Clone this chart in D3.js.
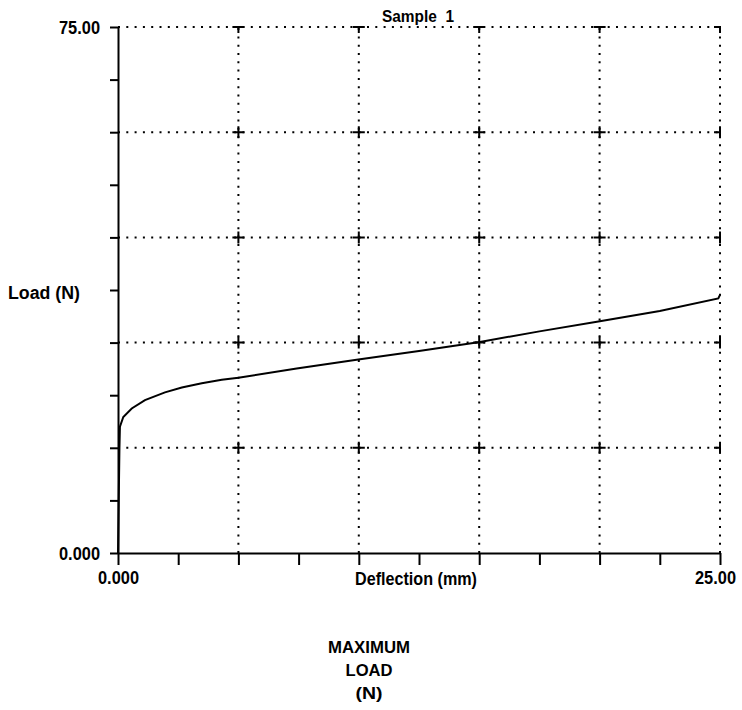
<!DOCTYPE html>
<html>
<head>
<meta charset="utf-8">
<script src="https://cdn.jsdelivr.net/npm/d3@7"></script>
<style>
  body { margin: 0; background: #fff; }
  svg text { font-family: "Liberation Sans", Arial, sans-serif; font-weight: bold; fill: #000; }
</style>
</head>
<body>
<div id="chart"></div>
<script>
// readings
const deflection = [0, 0.02, 0.04, 0.06, 0.08, 0.22, 0.57, 1.12, 1.95, 2.65, 3.48, 4.31, 5.0, 7.42, 9.98, 12.5, 15.03, 17.5, 19.95, 22.5, 24.93, 25.0];
const load = [0, 5, 10, 15, 18.0, 19.4, 20.6, 21.8, 22.9, 23.6, 24.2, 24.7, 25.0, 26.3, 27.6, 28.8, 30.1, 31.6, 33.0, 34.5, 36.3, 36.8];

const xTicks = [0, 2.5, 5, 7.5, 10, 12.5, 15, 17.5, 20, 22.5, 25];
const yTicks = [0, 7.5, 15, 22.5, 30, 37.5, 45, 52.5, 60, 67.5, 75];
const xGrid = [5, 10, 15, 20, 25];
const yGrid = [15, 30, 45, 60, 75];
const xLabels = { 0: "0.000", 25: "25.00" };
const yLabels = { 0: "0.000", 75: "75.00" };
const footer = ["MAXIMUM", "LOAD", "(N)"];
const footerWidths = [82, 47, 27];

const width = 742, height = 710;
const plotLeft = 118, plotRight = 720, plotTop = 27, plotBottom = 553;

const svg = d3.select("#chart").append("svg")
    .attr("width", width)
    .attr("height", height);

const x = d3.scaleLinear().domain([0, 25]).range([plotLeft, plotRight]);
const y = d3.scaleLinear().domain([0, 75]).range([plotBottom, plotTop]);

// squeeze text to the scanned (condensed) width
const fit = (sel, w) => sel.attr("textLength", w).attr("lengthAdjust", "spacingAndGlyphs");

// clip so edge crosses become T / -| shapes
svg.append("defs").append("clipPath").attr("id", "plotClip")
    .append("rect")
    .attr("x", plotLeft - 1).attr("y", plotTop - 1)
    .attr("width", plotRight - plotLeft + 2).attr("height", plotBottom - plotTop + 2);

// dotted grid
const grid = svg.append("g").attr("stroke", "#000").attr("stroke-width", 2)
    .attr("stroke-dasharray", "2,6.3");
grid.selectAll("line.v").data(xGrid).join("line").classed("v", true)
    .attr("x1", d => x(d)).attr("x2", d => x(d))
    .attr("y1", plotBottom).attr("y2", plotTop);
grid.selectAll("line.h").data(yGrid).join("line").classed("h", true)
    .attr("x1", plotLeft).attr("x2", plotRight)
    .attr("y1", d => y(d)).attr("y2", d => y(d));

// crosses at grid intersections
const crossPts = xGrid.flatMap(a => yGrid.map(b => [a, b]));
const cross = svg.append("g").attr("clip-path", "url(#plotClip)")
    .attr("stroke", "#000").attr("stroke-width", 2);
cross.selectAll("path").data(crossPts).join("path")
    .attr("d", d => `M${x(d[0]) - 6},${y(d[1])}h12M${x(d[0])},${y(d[1]) - 6}v12`);

// axes
const yAxis = d3.axisLeft(y).tickValues(yTicks).tickSize(8).tickSizeOuter(0)
    .tickPadding(10).tickFormat(d => yLabels[d] || "");
const gy = svg.append("g").attr("transform", `translate(${plotLeft},0)`).call(yAxis);

const xAxis = d3.axisBottom(x).tickValues(xTicks).tickSize(12).tickSizeOuter(0)
    .tickPadding(6).tickFormat(d => xLabels[d] || "");
const gx = svg.append("g").attr("transform", `translate(0,${plotBottom})`).call(xAxis);

[gx, gy].forEach(g => {
    g.select(".domain").attr("stroke", "#000").attr("stroke-width", 2);
    g.selectAll(".tick line").attr("stroke", "#000").attr("stroke-width", 2);
    g.selectAll(".tick text").style("font-size", "19px").attr("fill", "#000")
        .filter(function() { return this.textContent !== ""; })
        .call(fit, 41);
});
gy.selectAll(".tick text").attr("dy", "0.36em");
// last x label sits a little left of its tick in the scan
gx.selectAll(".tick text").filter(d => d === 25).attr("dx", -5);

// curve
const line = d3.line().x(d => x(d[0])).y(d => y(d[1]));
svg.append("path")
    .datum(deflection.map((d, i) => [d, load[i]]))
    .attr("d", line)
    .attr("fill", "none")
    .attr("stroke", "#000")
    .attr("stroke-width", 2);

// titles
svg.append("text").attr("x", 418).attr("y", 22)
    .attr("text-anchor", "middle").style("font-size", "17px")
    .style("white-space", "pre").text("Sample  1")
    .call(fit, 72);
svg.append("text").attr("x", 8).attr("y", 299)
    .style("font-size", "18px").text("Load (N)")
    .call(fit, 72);
svg.append("text").attr("x", 416).attr("y", 585)
    .attr("text-anchor", "middle").style("font-size", "18px").text("Deflection (mm)")
    .call(fit, 122);

svg.append("g").selectAll("text").data(footer).join("text")
    .attr("x", 369)
    .attr("y", (d, i) => 653 + i * 23)
    .attr("text-anchor", "middle")
    .style("font-size", "17px")
    .text(d => d)
    .each(function(d, i) { d3.select(this).call(fit, footerWidths[i]); });
</script>
</body>
</html>
